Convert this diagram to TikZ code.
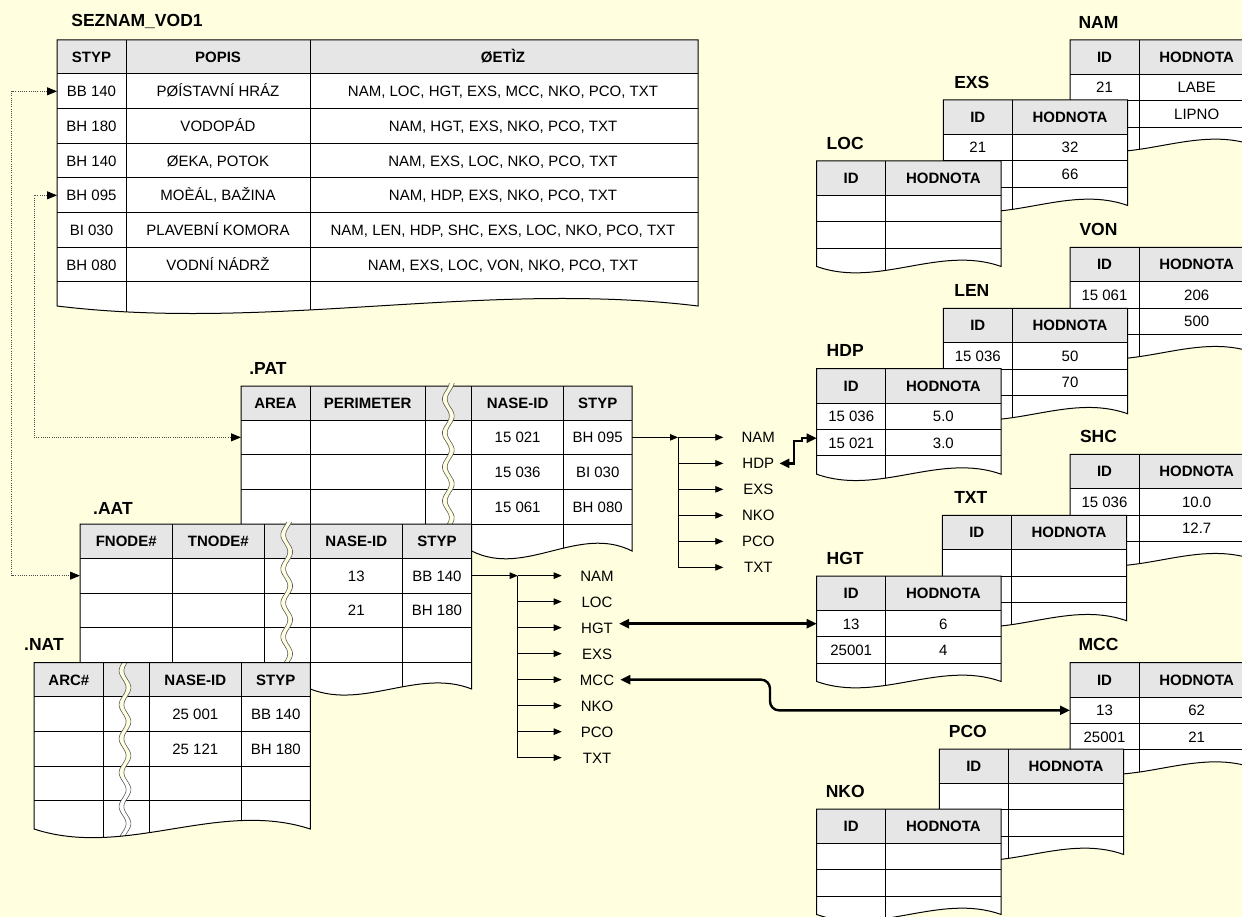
\documentclass[tikz,border=0pt]{standalone}
\usepackage{fontspec}
\setmainfont{Liberation Sans}
\usetikzlibrary{arrows.meta}
\definecolor{bgc}{HTML}{FFFFE0}
\definecolor{hdrc}{HTML}{E6E6E6}
\tikzset{
  tline/.style={draw=black, line width=1pt},
  ttl/.style={font=\fontsize{17.5}{20}\selectfont\bfseries, text height=12.5pt, text depth=0pt, inner sep=0pt},
  hd/.style={font=\fontsize{15}{18}\selectfont\bfseries, text height=10.7pt, text depth=0pt, inner sep=0pt},
  cell/.style={font=\fontsize{15}{18}\selectfont, text height=10.7pt, text depth=0pt, inner sep=0pt},
  lbl/.style={font=\fontsize{15}{18}\selectfont, text height=10.7pt, text depth=0pt, inner sep=0pt},
  brkl/.style={draw=black!65, line width=0.6pt},
  tarr/.style={line width=0.8pt, -{Triangle[length=8pt,width=6.5pt]}},
  tln/.style={line width=0.8pt},
  thk/.style={line width=2.4pt, {Triangle[length=10pt,width=9pt]}-{Triangle[length=10pt,width=9pt]}},
  dotl/.style={draw=black!70, line width=0.8pt, dash pattern=on 1pt off 1.2pt,
     {Triangle[length=10pt,width=8pt,color=black]}-{Triangle[length=10pt,width=8pt,color=black]}}
}
% wavy break strip: xc, ytop, ybottom, fill colour
\newcommand{\brk}[4]{%
  \fill[#4] plot[samples=60,domain=#2:#3] ({#1-2.4+3.5*sin(10.6*\x)},\x)
     -- plot[samples=60,domain=#3:#2] ({#1+2.4+3.5*sin(10.6*\x)},\x) -- cycle;
  \draw[brkl] plot[samples=60,domain=#2:#3] ({#1-2.4+3.5*sin(10.6*\x)},\x);
  \draw[brkl] plot[samples=60,domain=#2:#3] ({#1+2.4+3.5*sin(10.6*\x)},\x);
}
% two-column value table: name/title, x, y, id1, val1, id2, val2
\newcommand{\kvtable}[7]{%
\begin{scope}[shift={(#2,#3)}]
  \begin{scope}
    \clip (0,0) -- (184.4,0) -- (184.4,105.5) .. controls (122.9,83.5) and (61.5,127.5) .. (0,105.5) -- cycle;
    \fill[white] (0,0) rectangle (184.4,130);
    \fill[hdrc] (0,0) rectangle (184.4,34.5);
    \draw[tline] (0,34.5) -- (184.4,34.5) (0,60.8) -- (184.4,60.8) (0,87.1) -- (184.4,87.1) (69,0) -- (69,130);
  \end{scope}
  \draw[tline] (0,0) -- (184.4,0) -- (184.4,105.5) .. controls (122.9,83.5) and (61.5,127.5) .. (0,105.5) -- cycle;
  \node[ttl] (#1-t) at (28.5,-18) {#1};
  \node[hd] (#1-h1) at (34.5,17.25) {ID};
  \node[hd] (#1-h2) at (126.7,17.25) {HODNOTA};
  \node[cell] (#1-a1) at (34.5,47.65) {#4};
  \node[cell] (#1-b1) at (126.7,47.65) {#5};
  \node[cell] (#1-a2) at (34.5,73.95) {#6};
  \node[cell] (#1-b2) at (126.7,73.95) {#7};
  \coordinate (#1-w1) at (0,47.65);
  \coordinate (#1-w2) at (0,73.95);
\end{scope}}

\begin{document}
\begin{tikzpicture}[x=1pt,y=-1pt]
\useasboundingbox (0,0) rectangle (1242,917);
\clip (0,0) rectangle (1242,917);
\fill[bgc] (0,0) rectangle (1242,917);

%================ SEZNAM_VOD1 =================
\begin{scope}
  \clip (57,40) -- (698,40) -- (698,306) .. controls (484.3,280) and (270.7,332) .. (57,306) -- cycle;
  \fill[white] (57,40) rectangle (698,340);
  \fill[hdrc] (57,40) rectangle (698,74);
  \draw[tline] (57,74) -- (698,74) (57,108.67) -- (698,108.67) (57,143.33) -- (698,143.33)
     (57,178) -- (698,178) (57,212.67) -- (698,212.67) (57,247.33) -- (698,247.33) (57,282) -- (698,282)
     (126,40) -- (126,340) (310,40) -- (310,340);
\end{scope}
\draw[tline] (57,40) -- (698,40) -- (698,306) .. controls (484.3,280) and (270.7,332) .. (57,306) -- cycle;
\node[ttl] (sezT) at (137,20) {SEZNAM\_VOD1};
\node[hd] (sezH1) at (91.5,57) {STYP};
\node[hd] (sezH2) at (218,57) {POPIS};
\node[hd] (sezH3) at (503,57) {ØETÌZ};
\node[cell] (s1a) at (91.5,91.33) {BB 140};
\node[cell] (s1b) at (218,91.33) {PØÍSTAVNÍ HRÁZ};
\node[cell] (s1c) at (503,91.33) {NAM, LOC, HGT, EXS, MCC, NKO, PCO, TXT};
\node[cell] (s2a) at (91.5,126) {BH 180};
\node[cell] (s2b) at (218,126) {VODOPÁD};
\node[cell] (s2c) at (503,126) {NAM, HGT, EXS, NKO, PCO, TXT};
\node[cell] (s3a) at (91.5,160.67) {BH 140};
\node[cell] (s3b) at (218,160.67) {ØEKA, POTOK};
\node[cell] (s3c) at (503,160.67) {NAM, EXS, LOC, NKO, PCO, TXT};
\node[cell] (s4a) at (91.5,195.33) {BH 095};
\node[cell] (s4b) at (218,195.33) {MOÈÁL, BAŽINA};
\node[cell] (s4c) at (503,195.33) {NAM, HDP, EXS, NKO, PCO, TXT};
\node[cell] (s5a) at (91.5,230) {BI 030};
\node[cell] (s5b) at (218,230) {PLAVEBNÍ KOMORA};
\node[cell] (s5c) at (503,230) {NAM, LEN, HDP, SHC, EXS, LOC, NKO, PCO, TXT};
\node[cell] (s6a) at (91.5,264.67) {BH 080};
\node[cell] (s6b) at (218,264.67) {VODNÍ NÁDRŽ};
\node[cell] (s6c) at (503,264.67) {NAM, EXS, LOC, VON, NKO, PCO, TXT};
\coordinate (SEZ-w1) at (57,91.33);
\coordinate (SEZ-w4) at (57,195.33);

%================ .PAT =================
\begin{scope}
  \clip (241,386) -- (632,386) -- (632,551) .. controls (578.6,524) and (525.1,578) .. (471.7,551) -- (241,551) -- cycle;
  \fill[white] (241,386) rectangle (632,590);
  \fill[hdrc] (241,386) rectangle (632,420);
  \draw[tline] (241,420) -- (632,420) (241,454.7) -- (632,454.7) (241,489.3) -- (632,489.3) (241,524) -- (632,524)
     (310,386) -- (310,590) (425.3,386) -- (425.3,590) (471.7,386) -- (471.7,590) (563.5,386) -- (563.5,590);
\end{scope}
\draw[tline] (241,386) -- (632,386) -- (632,551) .. controls (578.6,524) and (525.1,578) .. (471.7,551) -- (241,551) -- cycle;
\brk{448.3}{383}{526}{bgc}
\node[ttl] (patT) at (268,368) {.PAT};
\node[hd] at (275.5,403) {AREA};
\node[hd] at (367.6,403) {PERIMETER};
\node[hd] at (517.6,403) {NASE-ID};
\node[hd] at (597.7,403) {STYP};
\node[cell] (p1a) at (517.6,437.35) {15 021};
\node[cell] (p1b) at (597.7,437.35) {BH 095};
\node[cell] (p2a) at (517.6,472) {15 036};
\node[cell] (p2b) at (597.7,472) {BI 030};
\node[cell] (p3a) at (517.6,506.65) {15 061};
\node[cell] (p3b) at (597.7,506.65) {BH 080};
\coordinate (PAT-w1) at (241,437.35);
\coordinate (PAT-e1) at (632,437.35);

%================ .AAT =================
\begin{scope}
  \clip (80,524) -- (471.7,524) -- (471.7,689) .. controls (417.9,668) and (364.1,710) .. (310.3,689) -- (80,689) -- cycle;
  \fill[white] (80,524) rectangle (471.7,720);
  \fill[hdrc] (80,524) rectangle (471.7,558.3);
  \draw[tline] (80,558.3) -- (471.7,558.3) (80,593) -- (471.7,593) (80,627.7) -- (471.7,627.7) (80,662.3) -- (471.7,662.3)
     (172.3,524) -- (172.3,720) (264.3,524) -- (264.3,720) (310.3,524) -- (310.3,720) (402.3,524) -- (402.3,720);
\end{scope}
\draw[tline] (80,524) -- (471.7,524) -- (471.7,689) .. controls (417.9,668) and (364.1,710) .. (310.3,689) -- (80,689) -- cycle;
\brk{286.7}{522}{664}{bgc}
\node[ttl] (aatT) at (113,508) {.AAT};
\node[hd] at (126.2,541.2) {FNODE\#};
\node[hd] at (218.3,541.2) {TNODE\#};
\node[hd] at (356.3,541.2) {NASE-ID};
\node[hd] at (437,541.2) {STYP};
\node[cell] (a1a) at (356.3,575.65) {13};
\node[cell] (a1b) at (437,575.65) {BB 140};
\node[cell] (a2a) at (356.3,610.35) {21};
\node[cell] (a2b) at (437,610.35) {BH 180};
\coordinate (AAT-w1) at (80,575.65);
\coordinate (AAT-e1) at (471.7,575.65);

%================ .NAT =================
\begin{scope}
  \clip (34,662.7) -- (310.3,662.7) -- (310.3,829) .. controls (218.2,799) and (126.1,859) .. (34,829) -- cycle;
  \fill[white] (34,662.7) rectangle (310.3,870);
  \fill[hdrc] (34,662.7) rectangle (310.3,696.7);
  \draw[tline] (34,696.7) -- (310.3,696.7) (34,731.3) -- (310.3,731.3) (34,766) -- (310.3,766) (34,800.3) -- (310.3,800.3)
     (103.7,662.7) -- (103.7,870) (149.3,662.7) -- (149.3,870) (241.3,662.7) -- (241.3,870);
  \brk{125}{661}{778}{bgc}
  \brk{125}{778}{845}{white}
\end{scope}
\draw[tline] (34,662.7) -- (310.3,662.7) -- (310.3,829) .. controls (218.2,799) and (126.1,859) .. (34,829) -- cycle;
\node[ttl] (natT) at (44,644) {.NAT};
\node[hd] at (68.9,679.7) {ARC\#};
\node[hd] at (195.3,679.7) {NASE-ID};
\node[hd] at (275.8,679.7) {STYP};
\node[cell] (n1a) at (195.3,714) {25 001};
\node[cell] (n1b) at (275.8,714) {BB 140};
\node[cell] (n2a) at (195.3,748.65) {25 121};
\node[cell] (n2b) at (275.8,748.65) {BH 180};

%================ value tables =================
\kvtable{NAM}{1070}{40}{21}{LABE}{}{LIPNO}
\kvtable{EXS}{943.3}{100}{21}{32}{}{66}
\kvtable{LOC}{816.7}{161}{}{}{}{}
\kvtable{VON}{1070}{247.3}{15 061}{206}{}{500}
\kvtable{LEN}{943.3}{308.3}{15 036}{50}{}{70}
\kvtable{HDP}{816.7}{368.7}{15 036}{5.0}{15 021}{3.0}
\kvtable{SHC}{1070}{454.3}{15 036}{10.0}{}{12.7}
\kvtable{TXT}{942.3}{515.3}{}{}{}{}
\kvtable{HGT}{816.7}{576}{13}{6}{25001}{4}
\kvtable{MCC}{1070}{662.7}{13}{62}{25001}{21}
\kvtable{PCO}{939.3}{749}{}{}{}{}
\kvtable{NKO}{816.7}{809}{}{}{}{}

%================ dotted links =================
\coordinate (dl1) at (11.7,91.33);
\coordinate (dl2) at (34,195.33);
\draw[dotl] (SEZ-w1) -- (dl1) |- (AAT-w1);
\draw[dotl] (SEZ-w4) -- (dl2) |- (PAT-w1);

%================ PAT branches =================
\coordinate (pbus) at (678,437.35);
\coordinate (pend) at (723.3,437.35);
\node[lbl] (pNAM) at (758.3,437.35) {NAM};
\node[lbl] (pHDP) at (758.3,463.35) {HDP};
\node[lbl] (pEXS) at (758.3,489.35) {EXS};
\node[lbl] (pNKO) at (758.3,515.35) {NKO};
\node[lbl] (pPCO) at (758.3,541.35) {PCO};
\node[lbl] (pTXT) at (758.3,567.35) {TXT};
\draw[tarr] (PAT-e1) -- (pbus);
\draw[tln] (pbus) -- (pbus |- pTXT);
\foreach \n in {pNAM,pHDP,pEXS,pNKO,pPCO,pTXT} \draw[tarr] (pbus |- \n) -- (pend |- \n);

%================ AAT branches =================
\coordinate (abus) at (517.7,575.65);
\coordinate (aend) at (561.7,575.65);
\node[lbl] (aNAM) at (597,575.65) {NAM};
\node[lbl] (aLOC) at (597,601.65) {LOC};
\node[lbl] (aHGT) at (597,627.65) {HGT};
\node[lbl] (aEXS) at (597,653.65) {EXS};
\node[lbl] (aMCC) at (597,679.65) {MCC};
\node[lbl] (aNKO) at (597,705.65) {NKO};
\node[lbl] (aPCO) at (597,731.65) {PCO};
\node[lbl] (aTXT) at (597,757.65) {TXT};
\draw[tarr] (AAT-e1) -- (abus);
\draw[tln] (abus) -- (abus |- aTXT);
\foreach \n in {aNAM,aLOC,aHGT,aEXS,aMCC,aNKO,aPCO,aTXT} \draw[tarr] (abus |- \n) -- (aend |- \n);

%================ thick links =================
\coordinate (hdpS) at ([xshift=5pt]pHDP.east);
\coordinate (hdpA) at (794,441);
\coordinate (hdpE) at ([yshift=4.5pt]HDP-w2);
\coordinate (hdpB) at ([xshift=-15pt]hdpE);
\draw[thk] (hdpS) -| (hdpA) -| (hdpB) -- (hdpE);

\coordinate (hgtS) at ([xshift=6pt]aHGT.east);
\draw[thk] (hgtS |- HGT-w1) -- (HGT-w1);

\coordinate (mccS) at ([xshift=6pt]aMCC.east);
\coordinate (mccA) at (770,679.65);
\draw[thk, rounded corners=9pt] (mccS) -- (mccA) |- (MCC-w1);
\end{tikzpicture}
\end{document}
